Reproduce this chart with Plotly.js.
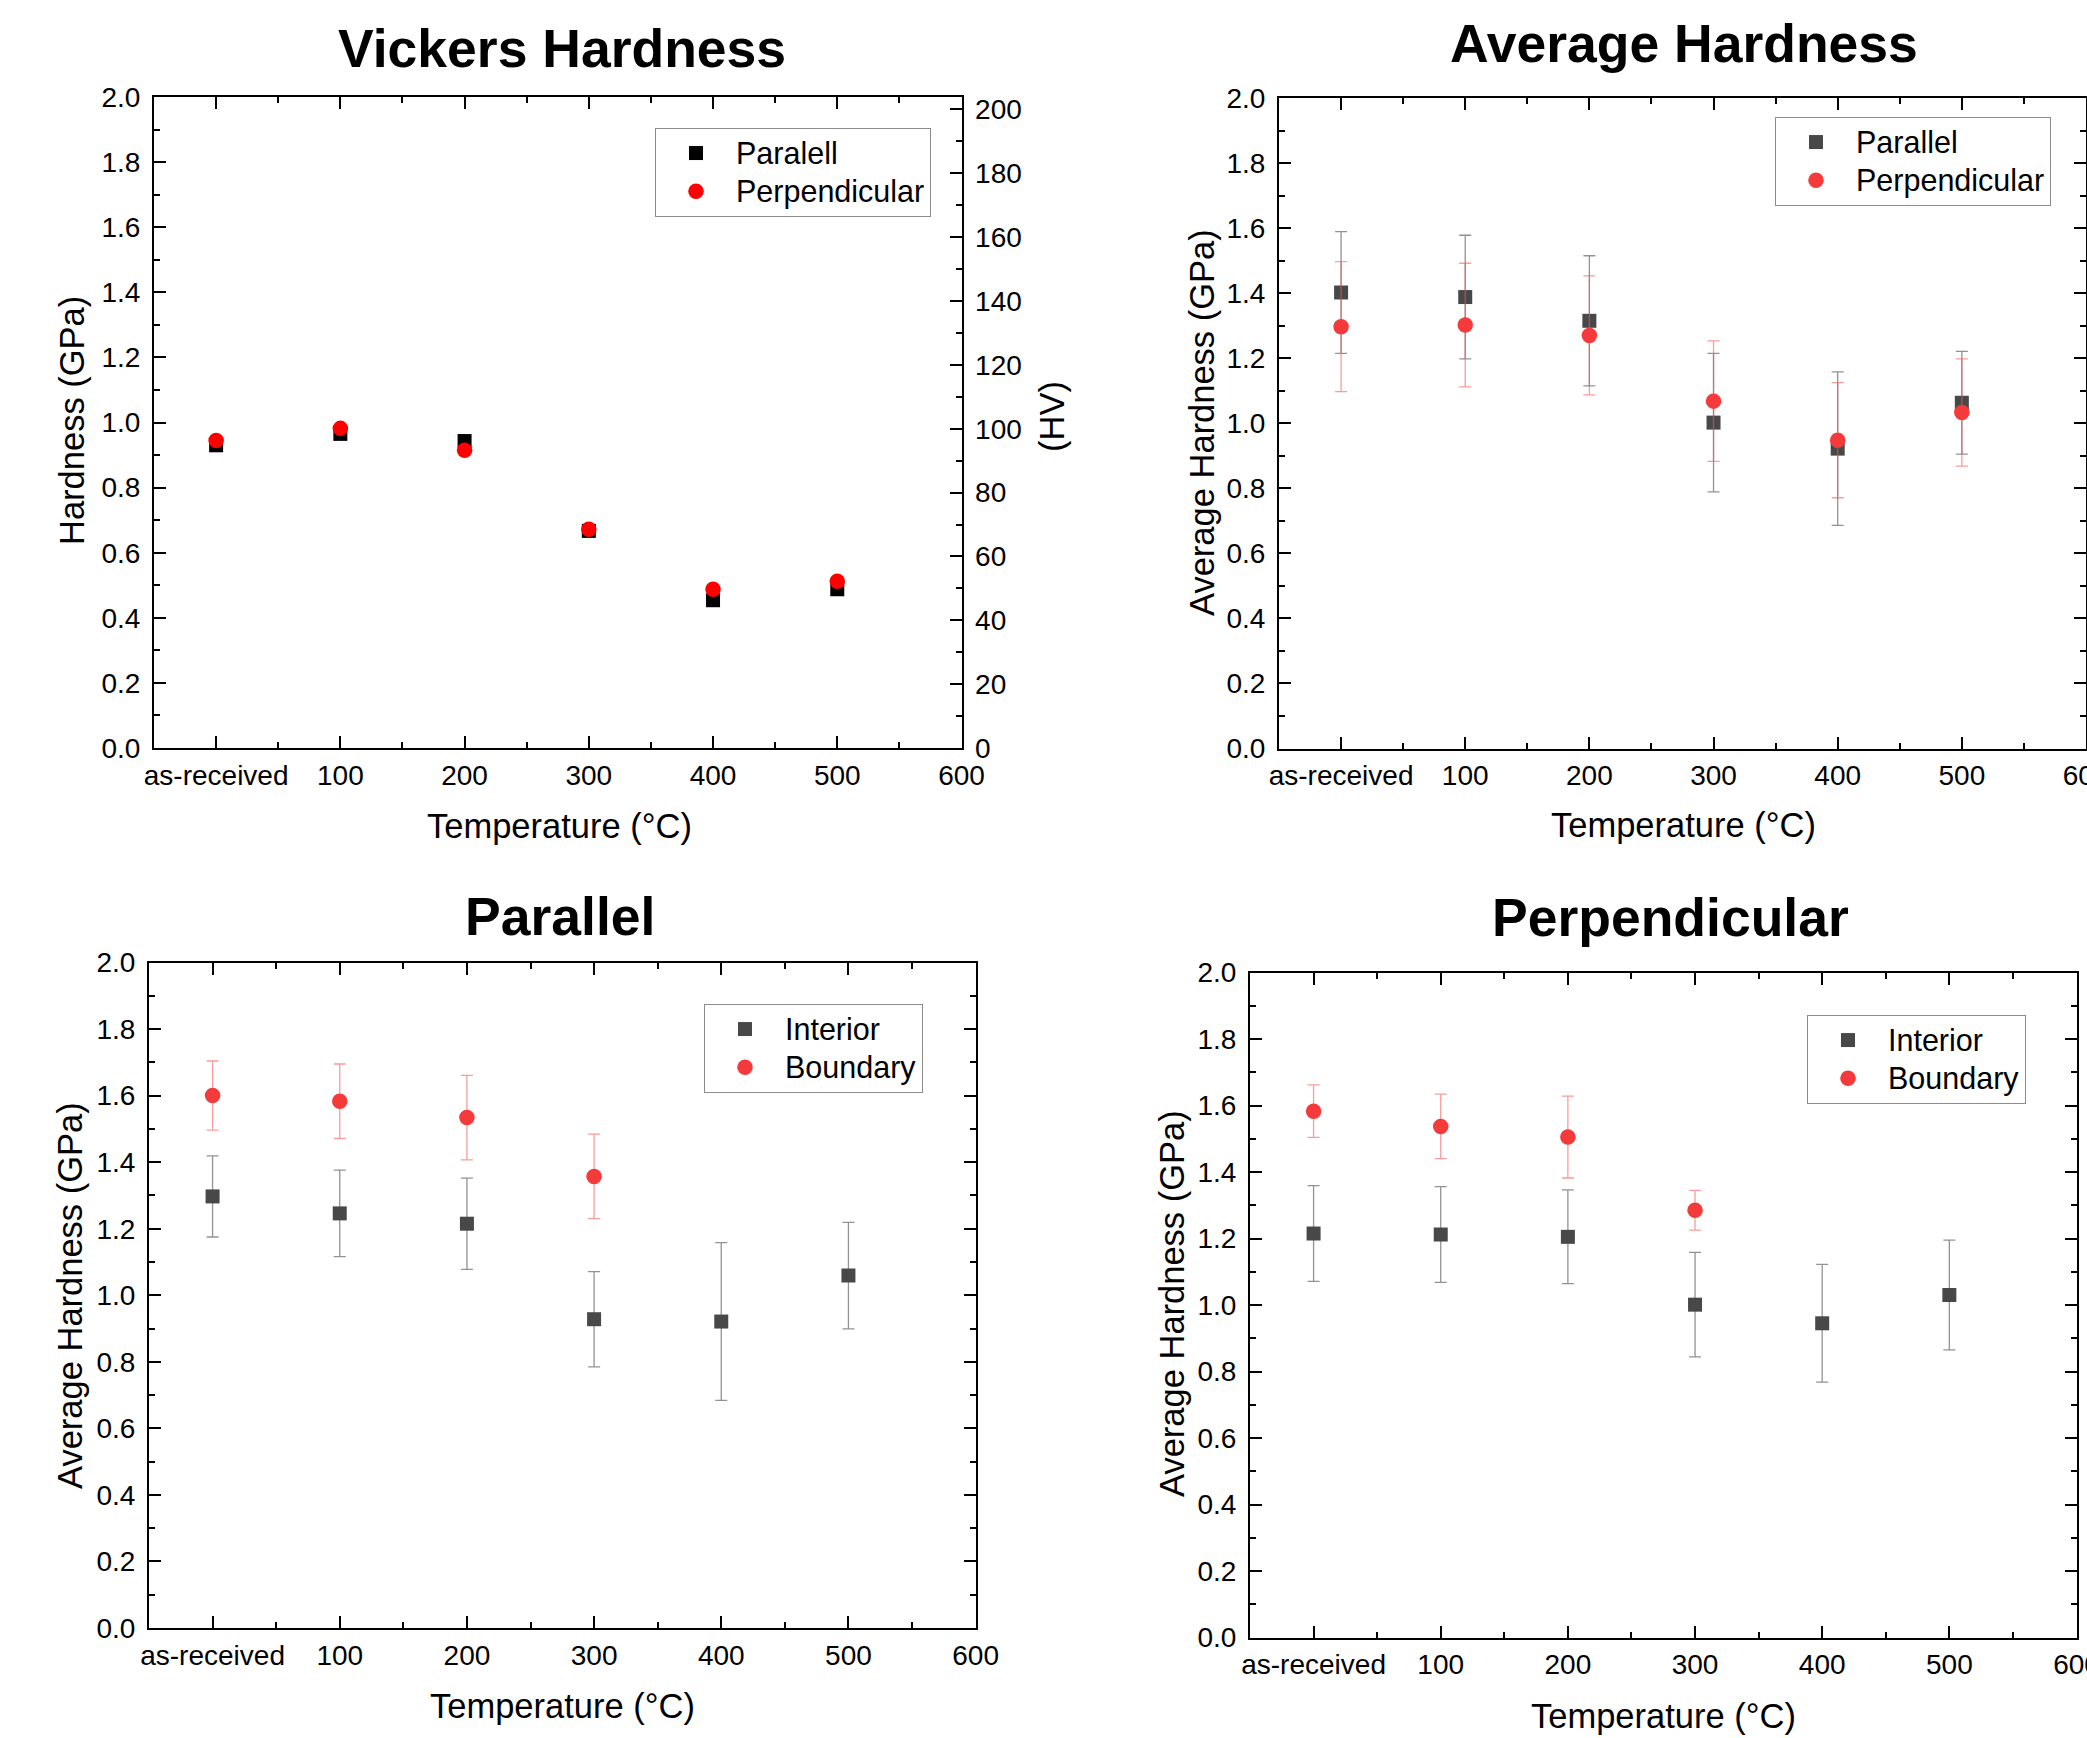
<!DOCTYPE html>
<html>
<head>
<meta charset="utf-8">
<script src="https://cdn.plot.ly/plotly-3.0.1.min.js"></script>
<style>
  html, body { margin: 0; padding: 0; background: #ffffff; overflow: hidden; }
  #chart { width: 2087px; height: 1738px; }
</style>
</head>
<body>
<div id="chart"></div>
<script>
// ---------- data ----------
const temps = [0, 100, 200, 300, 400, 500];
const tempsBoundary = [0, 100, 200, 300];
const tempTickVals = [0, 100, 200, 300, 400, 500, 600];
const tempTickText = ['as-received', '100', '200', '300', '400', '500', '600'];

// Vickers Hardness (GPa)
const vickersParalell = [0.930, 0.965, 0.943, 0.667, 0.454, 0.488];
const vickersParalellErr = [0.008, 0.010, 0.008, 0.008, 0.008, 0.008];
const vickersPerpendicular = [0.945, 0.982, 0.915, 0.672, 0.488, 0.512];
const vickersPerpendicularErr = [0.008, 0.010, 0.008, 0.010, 0.008, 0.008];

// Average Hardness (GPa)
const avgParallel = [1.402, 1.388, 1.315, 1.002, 0.922, 1.063];
const avgParallelErr = [0.187, 0.190, 0.200, 0.213, 0.236, 0.158];
const avgPerpendicular = [1.297, 1.302, 1.270, 1.068, 0.948, 1.033];
const avgPerpendicularErr = [0.200, 0.190, 0.183, 0.185, 0.177, 0.165];

// Parallel: Interior / Boundary
const parInterior = [1.297, 1.246, 1.215, 0.928, 0.921, 1.059];
const parInteriorErr = [0.122, 0.130, 0.137, 0.143, 0.237, 0.160];
const parBoundary = [1.600, 1.583, 1.534, 1.357];
const parBoundaryErr = [0.104, 0.112, 0.127, 0.127];

// Perpendicular: Interior / Boundary
const perpInterior = [1.215, 1.212, 1.205, 1.001, 0.945, 1.030];
const perpInteriorErr = [0.144, 0.144, 0.141, 0.157, 0.177, 0.165];
const perpBoundary = [1.583, 1.537, 1.505, 1.285];
const perpBoundaryErr = [0.079, 0.097, 0.123, 0.060];

// ---------- layout helpers ----------
const W = 2087, H = 1738;
const FONT = 'Liberation Sans, Arial, sans-serif';
const px = v => v / W;
const py = v => 1 - v / H;

const GRAY = 'rgb(72,72,72)';
const RED = 'rgb(244,58,58)';
const GRAY_ERR = 'rgba(110,110,110,0.75)';
const RED_ERR = 'rgba(244,90,90,0.6)';

const tickCommon = {
  ticks: 'inside', ticklen: 12, tickwidth: 2, tickcolor: '#000',
  showline: true, linewidth: 2, linecolor: '#000',
  showgrid: false, zeroline: false, fixedrange: true,
  tickfont: {family: FONT, size: 28, color: '#000'},
  ticklabeloverflow: 'allow'
};

function xAxis(l, r, anchor) {
  return Object.assign({}, tickCommon, {
    domain: [px(l), px(r)], anchor: anchor,
    range: [-50, 600], tickmode: 'array', tickvals: tempTickVals, ticktext: tempTickText,
    mirror: 'ticks', ticklabelstandoff: 1,
    minor: {tickmode: 'linear', tick0: 0, dtick: 50, ticks: 'inside', ticklen: 6, tickwidth: 2, tickcolor: '#000', showgrid: false}
  });
}
function yAxis(top, bottom, anchor, mirror) {
  return Object.assign({}, tickCommon, {
    domain: [py(bottom), py(top)], anchor: anchor,
    range: [0, 2], tickmode: 'linear', tick0: 0, dtick: 0.2, tickformat: '.1f',
    mirror: mirror, ticklabelstandoff: 6,
    minor: {tickmode: 'linear', tick0: 0, dtick: 0.1, ticks: 'inside', ticklen: 6, tickwidth: 2, tickcolor: '#000', showgrid: false}
  });
}

const legendLabel = t => '<span style="font-size:30.5px">' + t + '</span>';

function squareTrace(name, x, y, err, xa, ya, lg, color, errColor) {
  return {
    type: 'scatter', mode: 'markers', name: legendLabel(name), x: x, y: y,
    xaxis: xa, yaxis: ya, legend: lg,
    marker: {symbol: 'square', size: 14, color: color, line: {width: 0}},
    error_y: {type: 'data', array: err, visible: true, color: errColor, thickness: 1.3, width: 6}
  };
}
function circleTrace(name, x, y, err, xa, ya, lg, color, errColor) {
  return {
    type: 'scatter', mode: 'markers', name: legendLabel(name), x: x, y: y,
    xaxis: xa, yaxis: ya, legend: lg,
    marker: {symbol: 'circle', size: 15.5, color: color, line: {width: 0}},
    error_y: {type: 'data', array: err, visible: true, color: errColor, thickness: 1.3, width: 6}
  };
}

const data = [
  squareTrace('Paralell', temps, vickersParalell, vickersParalellErr, 'x', 'y', 'legend', '#000000', '#555555'),
  circleTrace('Perpendicular', temps, vickersPerpendicular, vickersPerpendicularErr, 'x', 'y', 'legend', '#ff0000', '#333333'),
  // placeholder (no points) so the secondary HV axis of the first panel is drawn
  {type: 'scatter', mode: 'markers', x: [null], y: [null], xaxis: 'x', yaxis: 'y2',
   showlegend: false, hoverinfo: 'skip', marker: {opacity: 0}},
  squareTrace('Parallel', temps, avgParallel, avgParallelErr, 'x2', 'y3', 'legend2', GRAY, GRAY_ERR),
  circleTrace('Perpendicular', temps, avgPerpendicular, avgPerpendicularErr, 'x2', 'y3', 'legend2', RED, RED_ERR),
  squareTrace('Interior', temps, parInterior, parInteriorErr, 'x3', 'y4', 'legend3', GRAY, GRAY_ERR),
  circleTrace('Boundary', tempsBoundary, parBoundary, parBoundaryErr, 'x3', 'y4', 'legend3', RED, RED_ERR),
  squareTrace('Interior', temps, perpInterior, perpInteriorErr, 'x4', 'y5', 'legend4', GRAY, GRAY_ERR),
  circleTrace('Boundary', tempsBoundary, perpBoundary, perpBoundaryErr, 'x4', 'y5', 'legend4', RED, RED_ERR)
];

function legendBox(left, top) {
  return {
    x: px(left), y: py(top), xanchor: 'left', yanchor: 'top',
    xref: 'paper', yref: 'paper',
    bgcolor: '#ffffff', bordercolor: '#8c8c8c', borderwidth: 1,
    font: {family: FONT, size: 27, color: '#000'},
    itemwidth: 70, tracegroupgap: 0, traceorder: 'normal'
  };
}

function ann(text, x, y, size, angle) {
  return {
    text: text, xref: 'paper', yref: 'paper', x: px(x), y: py(y),
    xanchor: 'center', yanchor: 'middle', showarrow: false,
    textangle: angle || 0,
    font: {family: FONT, size: size, color: '#000'}
  };
}

const yHV = Object.assign({}, tickCommon, {
  overlaying: 'y', side: 'right', anchor: 'x',
  range: [0, 203.9], tickmode: 'linear', tick0: 0, dtick: 20,
  ticklabelstandoff: 6,
  minor: {tickmode: 'linear', tick0: 0, dtick: 10, ticks: 'inside', ticklen: 6, tickwidth: 2, tickcolor: '#000', showgrid: false}
});

const layout = {
  width: W, height: H,
  margin: {l: 0, r: 0, t: 0, b: 0},
  paper_bgcolor: '#ffffff', plot_bgcolor: '#ffffff',
  font: {family: FONT, color: '#000'},
  showlegend: true,
  xaxis: xAxis(154, 961.5, 'y'),
  yaxis: yAxis(97, 748, 'x', false),
  yaxis2: yHV,
  xaxis2: xAxis(1279, 2086, 'y3'),
  yaxis3: yAxis(98, 748.5, 'x2', 'ticks'),
  xaxis3: xAxis(149, 975.6, 'y4'),
  yaxis4: yAxis(962.5, 1628, 'x3', 'ticks'),
  xaxis4: xAxis(1250, 2076.5, 'y5'),
  yaxis5: yAxis(972.5, 1637.5, 'x4', 'ticks'),
  legend: legendBox(655, 128),
  legend2: legendBox(1775, 117),
  legend3: legendBox(704, 1004),
  legend4: legendBox(1807, 1015),
  annotations: [
    ann('<b>Vickers Hardness</b>', 562, 48, 53.5),
    ann('<b>Average Hardness</b>', 1684, 43, 53.5),
    ann('<b>Parallel</b>', 560, 916, 53.5),
    ann('<b>Perpendicular</b>', 1670, 917, 53.5),
    ann('Temperature (°C)', 559, 826, 34.5),
    ann('Hardness (GPa)', 72, 421, 34.5, -90),
    ann('(HV)', 1052, 417, 34.5, -90),
    ann('Temperature (°C)', 1683, 825, 34.5),
    ann('Average Hardness (GPa)', 1202, 423, 34.5, -90),
    ann('Temperature (°C)', 562, 1706, 34.5),
    ann('Average Hardness (GPa)', 70, 1296, 34.5, -90),
    ann('Temperature (°C)', 1663, 1716, 34.5),
    ann('Average Hardness (GPa)', 1172, 1304, 34.5, -90)
  ]
};

Plotly.newPlot('chart', data, layout, {staticPlot: true, displayModeBar: false});
</script>
</body>
</html>
